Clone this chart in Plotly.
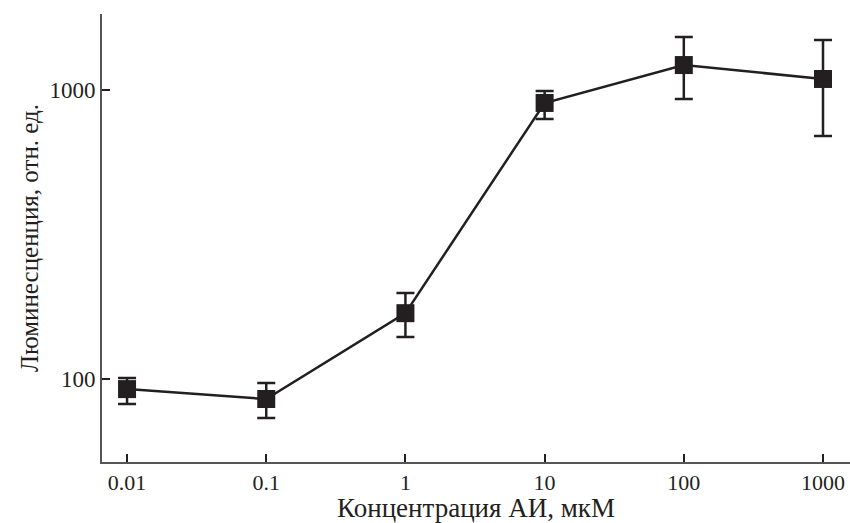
import plotly.graph_objects as go

conc = [0.01, 0.1, 1, 10, 100, 1000]
lum = [92.3, 85.3, 169, 902, 1220, 1092]
err_plus = [8.5, 11.6, 29.5, 90, 305, 397]
err_minus = [10.4, 12.0, 29.2, 108, 289, 399]

x_tickvals = [0.01, 0.1, 1, 10, 100, 1000]
x_ticktext = ["0.01", "0.1", "1", "10", "100", "1000"]
y_tickvals = [100, 1000]
y_ticktext = ["100", "1000"]

ink = "#231f20"
font = "Liberation Serif"

fig = go.Figure()
fig.add_trace(go.Scatter(
    x=conc, y=lum, mode="lines+markers",
    line=dict(color=ink, width=2.5),
    marker=dict(symbol="square", size=18, color=ink),
    error_y=dict(type="data", symmetric=False, array=err_plus, arrayminus=err_minus,
                 color=ink, thickness=2.5, width=9),
    showlegend=False,
))

fig.update_layout(
    width=850, height=523,
    margin=dict(l=102, r=0, t=14, b=61),
    plot_bgcolor="white", paper_bgcolor="white",
    font=dict(family=font, size=23, color=ink),
    xaxis=dict(
        type="log", range=[-2.18, 3.194],
        tickvals=x_tickvals, ticktext=x_ticktext,
        ticks="inside", ticklen=8, tickwidth=2, tickcolor=ink,
        showline=True, linecolor="#555", linewidth=2,
        showgrid=False, zeroline=False,
        title=dict(text="Концентрация АИ, мкМ", standoff=9, font=dict(size=27)),
        tickfont=dict(size=22),
    ),
    yaxis=dict(
        type="log", range=[1.713, 3.263],
        tickvals=y_tickvals, ticktext=y_ticktext,
        ticks="inside", ticklen=8, tickwidth=2, tickcolor=ink,
        showline=True, linecolor="#555", linewidth=2,
        showgrid=False, zeroline=False,
        title=dict(text="Люминесценция, отн. ед.", standoff=4, font=dict(size=25)),
        tickfont=dict(size=23),
    ),
)

fig.write_html("out.html")
